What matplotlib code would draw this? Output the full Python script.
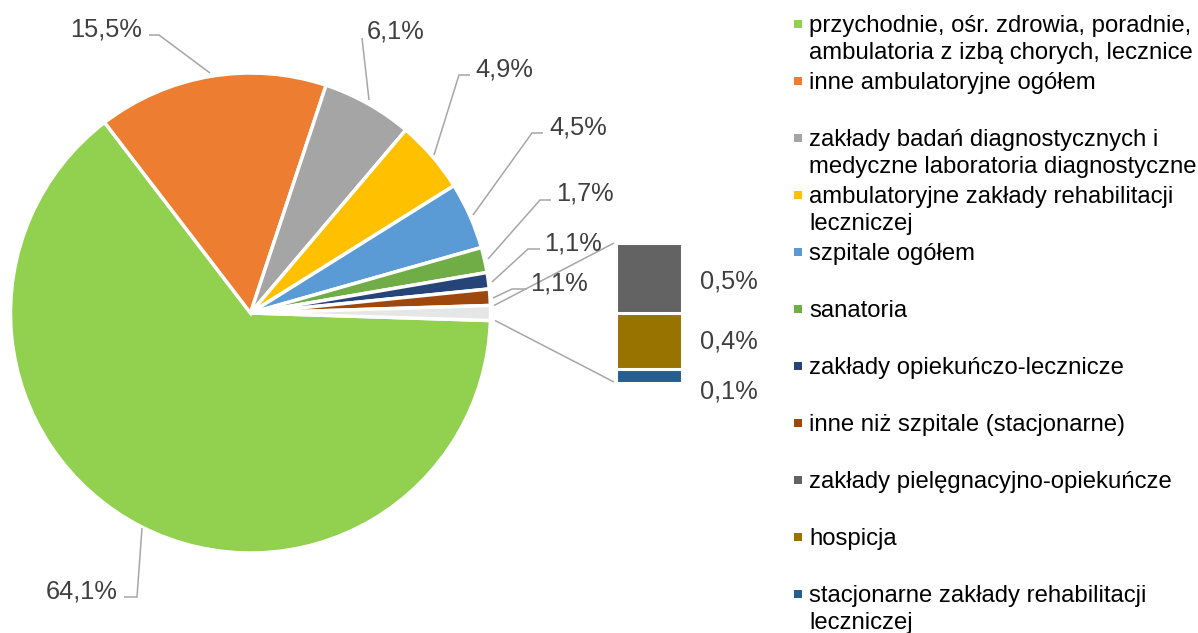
import matplotlib
matplotlib.use("Agg")
import matplotlib.pyplot as plt

plt.rcParams['font.family'] = ['Liberation Sans', 'DejaVu Sans']

# ---- data ----
pie_labels = [
    "przychodnie, ośr. zdrowia, poradnie,\nambulatoria z izbą chorych, lecznice",
    "inne ambulatoryjne ogółem",
    "zakłady badań diagnostycznych i\nmedyczne laboratoria diagnostyczne",
    "ambulatoryjne zakłady rehabilitacji\nleczniczej",
    "szpitale ogółem",
    "sanatoria",
    "zakłady opiekuńczo-lecznicze",
    "inne niż szpitale (stacjonarne)",
]
pie_values = [64.1, 15.5, 6.1, 4.9, 4.5, 1.7, 1.1, 1.1]
pie_colors = ["#92D050", "#ED7D31", "#A5A5A5", "#FFC000", "#5B9BD5",
              "#70AD47", "#264478", "#9E480E"]
other_color = "#E6E6E6"

bar_labels = [
    "zakłady pielęgnacyjno-opiekuńcze",
    "hospicja",
    "stacjonarne zakłady rehabilitacji\nleczniczej",
]
bar_values = [0.5, 0.4, 0.1]
bar_colors = ["#636363", "#997300", "#255E91"]

W, H = 1198, 633
fig = plt.figure(figsize=(W / 100, H / 100), dpi=100)
ax = fig.add_axes([0, 0, 1, 1])

def Y(y):
    return H - y

other_total = sum(bar_values)
all_values = pie_values + [other_total]
start = -other_total / sum(all_values) * 360 / 2

cx, cy, R = 250.5, 313, 240
ax.pie(all_values, colors=pie_colors + [other_color], startangle=start,
       counterclock=False, center=(cx, Y(cy)), radius=R,
       wedgeprops=dict(edgecolor="white", linewidth=2.5))
ax.set_xlim(0, W)
ax.set_ylim(0, H)
ax.set_aspect('auto')
ax.axis('off')

# ---- bar of pie ----
bar_top, bar_bot = 242.5, 382.5
bax = fig.add_axes([616 / W, Y(bar_bot) / H, 66 / W, (bar_bot - bar_top) / H])
bottom = 0.0
for v, c in zip(bar_values[::-1], bar_colors[::-1]):
    bax.bar(0, v, bottom=bottom, width=1.0, color=c, edgecolor="white",
            linewidth=2.2, clip_on=False)
    bottom += v
bax.set_xlim(-0.5, 0.5)
bax.set_ylim(0, other_total)
bax.axis('off')

line_c = "#A6A6A6"
lw = 1.1

def poly(pts):
    xs = [p[0] for p in pts]
    ys = [Y(p[1]) for p in pts]
    ax.plot(xs, ys, color=line_c, lw=lw, solid_capstyle='butt', solid_joinstyle='miter')

# connectors
poly([(494, 305.5), (614, 243)])
poly([(495, 320.5), (614, 382)])

# ---- data labels ----
def fmt(v):
    return f"{v:.1f}".replace(".", ",") + "%"

lab_c = "#404040"
fs_lab = 18.3
pie_lab_pos = [
    (118, 598, 'right'),
    (142, 36, 'right'),
    (367, 38, 'left'),
    (475, 76, 'left'),
    (549, 134, 'left'),
    (556, 200, 'left'),
    (544, 250, 'left'),
    (530, 291, 'left'),
]
leaders = [
    [(124, 597), (137, 597), (142, 528)],
    [(149, 35), (159, 35), (210, 73)],
    [(362, 38), (369, 100)],
    [(470, 75), (459, 75), (434, 155)],
    [(543, 133), (532, 133), (473, 215)],
    [(551, 200), (540, 200), (488, 259)],
    [(540, 249), (528, 249), (492, 282)],
    [(527, 289), (512, 289), (493, 298)],
]
for v, (x, yb, ha), ld in zip(pie_values, pie_lab_pos, leaders):
    ax.text(x, Y(yb), fmt(v), ha=ha, va='baseline', fontsize=fs_lab, color=lab_c)
    poly(ld)

bar_lab_pos = [(700, 288), (700, 349), (700, 398)]
for v, (x, yb) in zip(bar_values, bar_lab_pos):
    ax.text(x, Y(yb), fmt(v), ha='left', va='baseline', fontsize=fs_lab, color=lab_c)

# ---- legend ----
leg_labels = pie_labels + bar_labels
leg_colors = pie_colors + bar_colors
fs_leg = 17.2
for i, (lab, c) in enumerate(zip(leg_labels, leg_colors)):
    y0 = 24 + 57 * i
    ax.add_patch(plt.Rectangle((793.5, Y(y0 + 4)), 8, 8, color=c, lw=0))
    for j, line in enumerate(lab.split("\n")):
        ax.text(809, Y(32 + 57 * i + 27 * j), line, ha='left', va='baseline',
                fontsize=fs_leg, color="#000000")

fig.savefig("out.png", dpi=100)
